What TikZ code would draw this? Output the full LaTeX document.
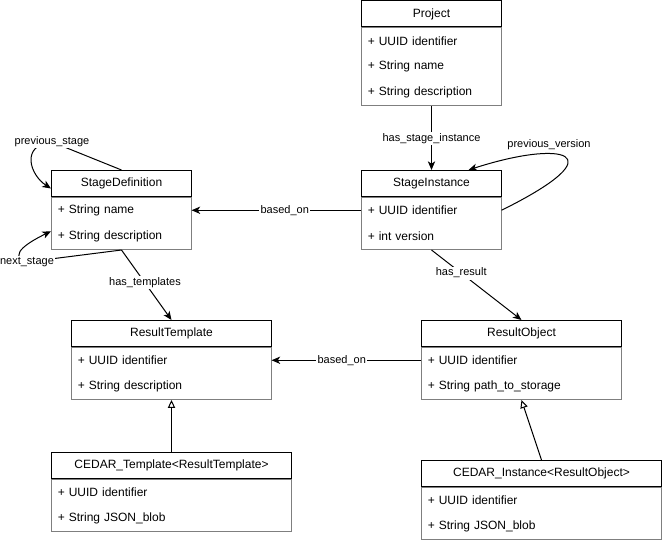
\documentclass[tikz,border=0pt]{standalone}
\usepackage{fontspec}
\setmainfont{Liberation Sans}
\usetikzlibrary{arrows.meta,calc}
\definecolor{bodyline}{HTML}{7F7F7F}

\tikzset{
  clshead/.style={draw=black, line width=0.75pt, minimum height=19.5pt, inner sep=0pt,
                  font=\fontsize{9}{11}\selectfont},
  clsbody/.style={draw=bodyline, line width=0.75pt, inner sep=0pt},
  attr/.style={inner xsep=4.875pt, inner ysep=0pt, minimum height=19.5pt, align=left,
               font=\fontsize{9}{11}\selectfont},
  assoc/.style={line width=0.75pt, -{Stealth[length=6.5pt,width=5.5pt,inset=1.8pt]}},
  inherit/.style={line width=0.75pt, -{Triangle[open,length=6pt,width=5.5pt,fill=white]}},
  lbl/.style={fill=white, inner sep=1pt, font=\fontsize{8.25}{10}\selectfont},
}

% UML class: #1 name, #2 left, #3 top, #4 width, #5 title, #6 number of rows, #7 rows
\newcommand{\umlclass}[7]{%
  \node[clshead, minimum width=#4*0.75pt, anchor=north west] (#1-h) at (#2,#3) {#5};
  \node[clsbody, minimum width=#4*0.75pt, minimum height=#6*19.5pt, anchor=north west]
    (#1) at (#1-h.south west) {};
  \pgfmathsetmacro\rowtw{(#4-13)*0.75}
  \foreach \r [count=\i] in {#7} {
    \node[attr, text width=\rowtw pt, anchor=north west] (#1-\i)
      at ($(#1.north west)+(0,{(\i-1)*26})$) {\r};
  }
}

\begin{document}
\begin{tikzpicture}[x=0.75pt,y=-0.75pt]
\useasboundingbox (0,0) rectangle (662,542);

% classes
\umlclass{proj}{361}{0.5}{140}{Project}{3}{+ UUID identifier, + String name, + String description}
\umlclass{si}{361}{170}{140}{StageInstance}{2}{+ UUID identifier, + int version}
\umlclass{sd}{51}{170}{140}{StageDefinition}{2}{+ String name, + String description}
\umlclass{rt}{71}{320}{200}{ResultTemplate}{2}{+ UUID identifier, + String description}
\umlclass{ro}{421}{320}{200}{ResultObject}{2}{+ UUID identifier, + String path\_to\_storage}
\umlclass{ct}{51}{452}{240}{CEDAR\_Template<ResultTemplate>}{2}{+ UUID identifier, + String JSON\_blob}
\umlclass{ci}{421}{460}{240}{CEDAR\_Instance<ResultObject>}{2}{+ UUID identifier, + String JSON\_blob}

% associations
\draw[assoc] (proj.south) -- node[lbl] (hsi) {has\_stage\_instance} (si-h.north);
\draw[assoc] (si-1.west) -- node[lbl, pos=0.45] (bo1) {based\_on} (sd-1.east);
\draw[assoc] (ro-1.west) -- node[lbl, pos=0.53] (bo2) {based\_on} (rt-1.east);
\draw[assoc] (sd.south) -- node[lbl, pos=0.47] (hte) {has\_templates} (rt-h.north);
\draw[assoc] (si.south) -- node[lbl, pos=0.33] (hre) {has\_result} (ro-h.north);

% self associations
\coordinate (pvend) at ($(si-h.north)+(37,0)$);
\draw[assoc] (si-1.east) .. controls +(119,-59) and +(92,-30) .. (pvend);
\node[lbl] (pvl) at (549,145) {previous\_version};

\coordinate (psc) at (52,142);
\draw[assoc] (sd-h.north) -- (psc) .. controls (20,145) and (30,175) .. ($(sd-h.west)+(0,5)$);
\node[lbl] (psl) at (psc) {previous\_stage};

\coordinate (nsc) at (27,262);
\draw[assoc] (sd.south) -- (nsc) .. controls (5,255) and (33,240) .. ($(sd-2.west)+(0,-5)$);
\node[lbl] (nsl) at (nsc) {next\_stage};

% generalisations
\draw[inherit] (ct-h.north) -- (rt.south);
\draw[inherit] (ci-h.north) -- (ro.south);
\end{tikzpicture}
\end{document}
